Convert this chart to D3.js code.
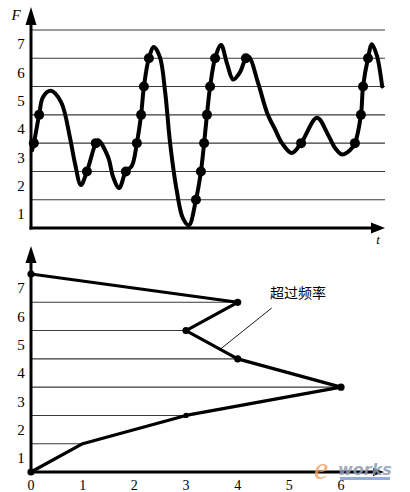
<!DOCTYPE html>
<html>
<head>
<meta charset="utf-8">
<script src="https://cdn.jsdelivr.net/npm/d3@7"></script>
<style>
  body { margin: 0; background: #fff; }
  svg { display: block; }
</style>
</head>
<body>
<div id="container"></div>
<script>
// top panel: load signal F(t)
const signalT = [0.03, 0.08, 0.23, 0.34, 0.56, 0.85, 1.10, 1.24, 1.41, 1.58, 1.83, 1.90, 2.18, 2.32, 2.49, 2.68, 2.85,
  2.99, 3.11, 3.19, 3.33, 3.47, 3.64, 3.79, 3.93, 4.12, 4.29, 4.46, 4.66, 4.80, 4.89, 4.97, 5.06, 5.20, 5.37,
  5.54, 5.71, 5.90, 6.07, 6.16, 6.41, 6.69, 6.89, 7.09, 7.37, 7.63, 8.08, 8.39, 8.59, 8.79, 9.01, 9.15, 9.32,
  9.38, 9.52, 9.63, 9.77, 9.92];
const signalF = [2.75, 3.0, 4.0, 4.63, 4.85, 4.45, 3.2, 2.3, 1.52, 2.0, 3.0, 3.1, 2.5, 1.8, 1.41, 2.0, 2.2,
  3.0, 4.0, 5.0, 6.0, 6.4, 6.05, 4.8, 3.0, 1.3, 0.35, 0.1, 1.0, 2.0, 3.0, 4.0, 5.0, 6.0, 6.47,
  5.8, 5.25, 5.5, 6.0, 6.05, 5.15, 4.0, 3.5, 3.0, 2.65, 3.0, 3.9, 3.3, 2.83, 2.6, 2.75, 3.0, 4.0,
  5.0, 6.0, 6.5, 6.1, 5.0];
// upward level crossings (marked with dots)
const crossT = [0.08, 0.23, 1.58, 1.83, 2.68, 2.99, 3.11, 3.19, 3.33, 4.66, 4.80, 4.89, 4.97, 5.06, 5.20,
  6.07, 7.63, 9.15, 9.32, 9.38, 9.52];
const crossF = [3, 4, 2, 3, 2, 3, 4, 5, 6, 1, 2, 3, 4, 5, 6, 6, 3, 3, 4, 5, 6];

// bottom panel: exceedance count per level
const levels = [0, 1, 2, 3, 4, 5, 6, 7];
const counts = [0, 1, 3, 6, 4, 3, 4, 0];
const countDots = [0, 2, 3, 4, 5, 6, 7];
const levelLabels = ["1", "2", "3", "4", "5", "6", "7"];
const countTicks = [0, 1, 2, 3, 4, 5, 6];

const serif = "'Liberation Serif', 'DejaVu Serif', serif";
const width = 410, height = 492;
const svg = d3.select("#container").append("svg")
  .attr("width", width).attr("height", height);

const x1 = d3.scaleLinear().domain([0, 10]).range([31, 385]);
const y1 = d3.scaleLinear().domain([0, 7]).range([228, 30]);
const x2 = d3.scaleLinear().domain([0, 6]).range([31, 341]);
const y2 = d3.scaleLinear().domain([0, 7]).range([472, 274]);

// ---------- top panel ----------
const gTop = svg.append("g");

gTop.selectAll("line.grid")
  .data(levels.slice(1))
  .enter().append("line")
  .attr("class", "grid")
  .attr("x1", x1(0)).attr("x2", x1(10))
  .attr("y1", d => y1(d)).attr("y2", d => y1(d))
  .attr("stroke", "#3a3a3a").attr("stroke-width", 1.1);

gTop.selectAll("text.ylab")
  .data(levelLabels)
  .enter().append("text")
  .attr("x", 21)
  .attr("y", (d, i) => y1(i + 0.5))
  .attr("dy", "0.35em")
  .attr("text-anchor", "middle")
  .attr("font-family", serif)
  .attr("font-size", 15)
  .text(d => d);

// axes
gTop.append("line")
  .attr("x1", x1(0)).attr("x2", x1(0))
  .attr("y1", y1(0) + 1.5).attr("y2", 20)
  .attr("stroke", "#000").attr("stroke-width", 3);
gTop.append("path")
  .attr("d", `M${x1(0) - 5.5},25 L${x1(0)},7 L${x1(0) + 5.5},25 Z`)
  .attr("fill", "#000");
gTop.append("line")
  .attr("x1", x1(0) - 1.5).attr("x2", x1(10) - 8)
  .attr("y1", y1(0)).attr("y2", y1(0))
  .attr("stroke", "#000").attr("stroke-width", 3);
gTop.append("path")
  .attr("d", `M${x1(10) - 14},${y1(0) - 5.5} L${x1(10)},${y1(0)} L${x1(10) - 14},${y1(0) + 5.5} Z`)
  .attr("fill", "#000");
gTop.append("text")
  .attr("x", 16).attr("y", 20)
  .attr("text-anchor", "middle")
  .attr("font-family", serif)
  .attr("font-size", 15).attr("font-style", "italic")
  .text("F");
gTop.append("text")
  .attr("x", 378).attr("y", 244)
  .attr("text-anchor", "middle")
  .attr("font-family", serif)
  .attr("font-size", 13).attr("font-style", "italic")
  .text("t");

const signal = signalT.map((t, i) => [t, signalF[i]]);
gTop.append("path")
  .datum(signal)
  .attr("fill", "none")
  .attr("stroke", "#000")
  .attr("stroke-width", 4)
  .attr("stroke-linejoin", "round")
  .attr("stroke-linecap", "round")
  .attr("d", d3.line()
    .x(d => x1(d[0]))
    .y(d => y1(d[1]))
    .curve(d3.curveCatmullRom.alpha(0.5)));

gTop.selectAll("circle.cross")
  .data(crossT)
  .enter().append("circle")
  .attr("class", "cross")
  .attr("cx", d => x1(d))
  .attr("cy", (d, i) => y1(crossF[i]))
  .attr("r", 5)
  .attr("fill", "#000");

// ---------- bottom panel ----------
const gBot = svg.append("g");

gBot.selectAll("line.grid")
  .data(levels.slice(1, 7))
  .enter().append("line")
  .attr("class", "grid")
  .attr("x1", x2(0)).attr("x2", d => x2(counts[d]))
  .attr("y1", d => y2(d)).attr("y2", d => y2(d))
  .attr("stroke", "#3a3a3a").attr("stroke-width", 1.1);

gBot.selectAll("text.ylab")
  .data(levelLabels)
  .enter().append("text")
  .attr("x", 21)
  .attr("y", (d, i) => y2(i + 0.5))
  .attr("dy", "0.35em")
  .attr("text-anchor", "middle")
  .attr("font-family", serif)
  .attr("font-size", 15)
  .text(d => d);

gBot.selectAll("text.xlab")
  .data(countTicks)
  .enter().append("text")
  .attr("x", d => x2(d))
  .attr("y", 490)
  .attr("text-anchor", "middle")
  .attr("font-family", serif)
  .attr("font-size", 14)
  .text(d => d);

gBot.append("line")
  .attr("x1", x2(0)).attr("x2", x2(0))
  .attr("y1", y2(0) + 1.5).attr("y2", 258)
  .attr("stroke", "#000").attr("stroke-width", 3);
gBot.append("path")
  .attr("d", `M${x2(0) - 5.5},263 L${x2(0)},246 L${x2(0) + 5.5},263 Z`)
  .attr("fill", "#000");
gBot.append("line")
  .attr("x1", x2(0) - 1.5).attr("x2", 376)
  .attr("y1", y2(0)).attr("y2", y2(0))
  .attr("stroke", "#000").attr("stroke-width", 3);
gBot.append("path")
  .attr("d", `M373,${y2(0) - 4} L384,${y2(0)} L373,${y2(0) + 4} Z`)
  .attr("fill", "#000");

gBot.append("path")
  .datum(levels.map(l => [counts[l], l]))
  .attr("fill", "none")
  .attr("stroke", "#000")
  .attr("stroke-width", 3.2)
  .attr("stroke-linejoin", "round")
  .attr("d", d3.line().x(d => x2(d[0])).y(d => y2(d[1])));

gBot.selectAll("circle.pt")
  .data(countDots)
  .enter().append("circle")
  .attr("class", "pt")
  .attr("cx", d => x2(counts[d]))
  .attr("cy", d => y2(d))
  .attr("r", d => d === 2 ? 2.6 : 3.6)
  .attr("fill", "#000");

// annotation
gBot.append("line")
  .attr("x1", x2(4.66)).attr("y1", y2(5.8))
  .attr("x2", x2(3.67)).attr("y2", y2(4.35))
  .attr("stroke", "#000").attr("stroke-width", 0.9);
gBot.append("text")
  .attr("x", 270).attr("y", 293)
  .attr("dy", "0.35em")
  .attr("font-family", "'Noto Sans CJK SC', sans-serif")
  .attr("font-size", 14)
  .text("超过频率");

// watermark
const wm = svg.append("g").attr("opacity", 0.85);
wm.append("text")
  .attr("x", 314).attr("y", 479)
  .attr("font-family", serif)
  .attr("font-size", 32).attr("font-style", "italic")
  .attr("fill", "#f0a464")
  .text("e");
wm.append("text")
  .attr("x", 338).attr("y", 475)
  .attr("font-family", "'DejaVu Sans', sans-serif")
  .attr("font-size", 16).attr("font-style", "italic").attr("font-weight", "bold")
  .attr("fill", "#8f9cb2")
  .text("works");
wm.append("rect")
  .attr("x", 340).attr("y", 477).attr("width", 50).attr("height", 3)
  .attr("fill", "#7f9fd6");
</script>
</body>
</html>
